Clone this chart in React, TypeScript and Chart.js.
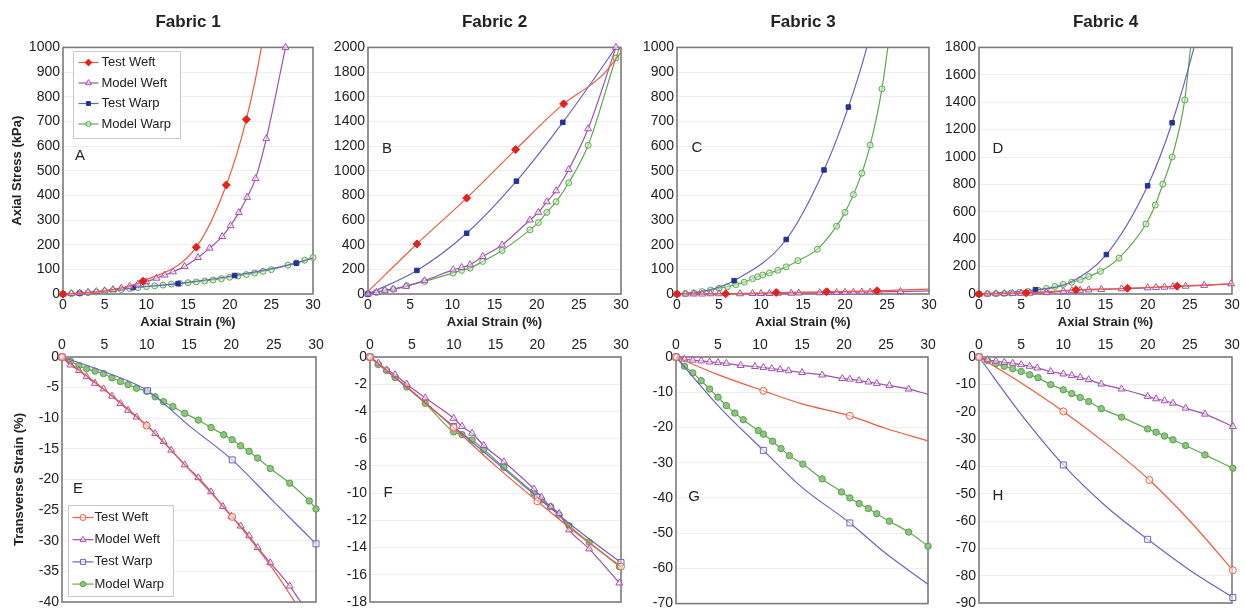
import React, { useEffect, useRef } from 'react';
import { Chart, registerables } from 'chart.js';
import { drawPoint } from 'chart.js/helpers';
Chart.register(...registerables);

type P = [number, number];

// ---------- shared axis labels ----------
const panelTitles = ['Fabric 1', 'Fabric 2', 'Fabric 3', 'Fabric 4'];
const panelLetters = ['A', 'B', 'C', 'D', 'E', 'F', 'G', 'H'];
const seriesLabels = ['Test Weft', 'Model Weft', 'Test Warp', 'Model Warp'];
const xTitle = 'Axial Strain (%)';
const yTitleTop = 'Axial Stress (kPa)';
const yTitleBottom = 'Transverse Strain (%)';

// ---------- A: Fabric 1, axial stress ----------
const aTestWeft: P[] = [[0, 0], [9.6, 52], [16, 190], [19.6, 442], [22, 708]];
const aTestWeftLine: P[] = [[5, 12], [23.8, 1000], [24.6, 1200]];
const aModelWeft: P[] = [[0, 0], [1, 2], [2, 4], [3, 7], [4, 10], [5, 13], [6, 18], [7, 24], [8, 31], [9, 40], [10, 50], [11.2, 64], [12.2, 77], [13.2, 90], [14.6, 112], [16.2, 148], [17.6, 186], [19.1, 233], [20.1, 277], [21.1, 330], [22.1, 392], [23.1, 468], [24.4, 630], [26.7, 1000]];
const aTestWarp: P[] = [[0, 0], [2, 3], [8.4, 26], [13.8, 42], [20.6, 75], [28, 125]];
const aTestWarpLine: P[] = [[30, 146]];
const aModelWarp: P[] = [[0, 0], [1, 1], [2, 3], [3, 5], [4, 8], [5, 11], [6, 14], [7, 18], [8, 22], [9, 26], [10, 30], [11, 33], [12, 36], [13, 40], [14, 43], [15, 46], [16, 49], [17, 53], [18, 57], [19, 62], [20, 68], [21, 73], [22, 79], [23, 85], [24, 92], [25, 99], [27, 117], [28, 126], [29, 137], [30, 148]];

// ---------- B: Fabric 2, axial stress ----------
const bTestWeft: P[] = [[5.8, 406], [11.7, 778], [17.5, 1171], [23.2, 1542]];
const bTestWeftLine: P[] = [[0, 20], [26.5, 1700], [28, 1790], [30, 1960]];
const bModelWeft: P[] = [[0, 0], [1, 13], [2, 30], [3, 40], [4.5, 62], [6.7, 108], [10.1, 196], [11.1, 215], [12.1, 237], [13.6, 304], [15.9, 398], [19.2, 600], [20.2, 662], [21.2, 748], [22.3, 837], [23.8, 1009], [26.1, 1340], [29.4, 2000]];
const bTestWarp: P[] = [[0, 0], [5.8, 191], [11.7, 493], [17.6, 915], [23.1, 1392]];
const bTestWarpLine: P[] = [[29.4, 2000], [30, 2060]];
const bModelWarp: P[] = [[0, 0], [1, 12], [2, 27], [3, 38], [4.6, 67], [6.7, 102], [10.1, 170], [11.1, 191], [12.1, 210], [13.6, 264], [15.9, 353], [19.2, 520], [20.2, 579], [21.2, 662], [22.3, 748], [23.8, 902], [26.1, 1206], [29.4, 1914]];
const bModelWarpLine: P[] = [[30, 2030]];

// ---------- C: Fabric 3, axial stress ----------
const cTestWeft: P[] = [[0, 0], [5.8, 1], [11.8, 6], [17.8, 9], [23.8, 13]];
const cTestWeftLine: P[] = [[30, 20]];
const cModelWeft: P[] = [[0, 0], [1, 0], [2, 0], [3, 0], [4, 1], [5, 1], [7.5, 1], [9, 2], [10, 2], [11, 2], [12, 3], [13.6, 3], [14.5, 4], [17, 5], [18, 6], [19, 6], [20, 7], [21, 7], [22, 8], [23, 8], [24, 9], [26.6, 10]];
const cModelWeftLine: P[] = [[30, 13]];
const cTestWarp: P[] = [[0, 0], [6.8, 54], [13, 221], [17.5, 503], [20.4, 758]];
const cTestWarpLine: P[] = [[3.5, 14], [22.6, 1000], [23.5, 1130]];
const cModelWarp: P[] = [[0, 0], [1, 2], [2, 5], [3, 10], [4, 16], [5, 23], [6, 30], [7, 38], [8, 48], [9, 62], [9.6, 70], [10.2, 77], [11, 85], [12, 96], [13, 110], [14.4, 135], [16.7, 181], [19, 275], [20, 331], [21, 403], [22, 490], [23, 604], [24.4, 832]];
const cModelWarpLine: P[] = [[25.1, 1000], [25.5, 1100]];

// ---------- D: Fabric 4, axial stress ----------
const dTestWeft: P[] = [[0, 0], [5.6, 8], [11.5, 31], [17.6, 42], [23.5, 57]];
const dTestWeftLine: P[] = [[30, 75]];
const dModelWeft: P[] = [[0, 0], [1, 1], [2, 2], [3, 3], [4, 4], [5, 5], [6, 6], [8, 10], [10, 20], [11, 24], [12, 27], [13, 30], [14.5, 33], [16.9, 38], [20, 45], [21, 48], [22, 50], [23, 53], [24.5, 57], [26.7, 63], [29.9, 75]];
const dTestWarp: P[] = [[0, 0], [6.7, 31], [15.1, 288], [20, 790], [22.9, 1250]];
const dTestWarpLine: P[] = [[10.5, 75], [25.5, 1800], [26.2, 1980]];
const dModelWarp: P[] = [[0, 0], [1, 1], [2, 2], [3, 4], [3.8, 7], [4.8, 12], [5.8, 18], [7, 28], [8, 40], [9, 55], [10, 70], [11, 86], [12, 104], [13, 128], [14.4, 165], [16.6, 262], [19.8, 511], [20.9, 649], [21.8, 802], [22.9, 1000], [24.4, 1417]];
const dModelWarpLine: P[] = [[25.1, 1800], [25.5, 1960]];

// ---------- E: Fabric 1, transverse strain ----------
const eTestWeft: P[] = [[0, 0], [10, -11.2], [20.1, -26.1]];
const eTestWeftLine: P[] = [[5, -5.3], [15, -18.3], [25, -34.8], [27.5, -40], [28.5, -42.2]];
const eModelWeft: P[] = [[0, 0], [1, -1.3], [2, -2.2], [2.9, -3.2], [3.9, -4.3], [4.9, -5.2], [5.9, -6.4], [6.9, -7.6], [7.8, -8.7], [8.8, -9.8], [10, -11.1], [11, -12.5], [12, -13.8], [12.9, -15.2], [14.5, -17.6], [16.1, -19.7], [17.6, -22], [19, -24.4], [20, -26], [21.1, -27.6], [22.1, -29.2], [23.1, -31.1], [24.6, -33.6], [26.9, -37.4]];
const eModelWeftLine: P[] = [[28.2, -40], [29, -41.6]];
const eTestWarp: P[] = [[0, 0], [10.1, -5.5], [20.1, -16.8], [30, -30.5]];
const eTestWarpLine: P[] = [[5, -2.4], [15, -11.2], [25, -23.6]];
const eModelWarp: P[] = [[0, 0], [1, -0.7], [2, -1.4], [2.9, -1.9], [3.9, -2.3], [4.9, -2.7], [5.9, -3.4], [6.9, -4], [7.8, -4.5], [8.8, -5.1], [10, -5.6], [11, -6.5], [12, -7.3], [13.1, -8.1], [14.5, -9.2], [16.1, -10.3], [17.6, -11.5], [19.1, -12.7], [20.1, -13.5], [21.1, -14.5], [22.1, -15.4], [23.1, -16.5], [24.6, -18.2], [26.9, -20.6], [29.2, -23.5], [30, -24.8]];

// ---------- F: Fabric 2, transverse strain ----------
const fTestWeft: P[] = [[0, 0], [10, -5.2], [20, -10.6], [30, -15.4]];
const fTestWeftLine: P[] = [[5, -2.5], [15, -8], [25, -13.1]];
const fModelWeft: P[] = [[0, 0], [1, -0.45], [2, -0.95], [3, -1.3], [4.4, -2], [6.6, -3], [10, -4.5], [11, -5.1], [12.2, -5.6], [13.6, -6.5], [16, -7.7], [19.6, -9.7], [20.5, -10.3], [21.6, -11], [22.6, -11.5], [23.8, -12.7], [26.2, -14.1], [29.8, -16.6]];
const fTestWarp: P[] = [[0, 0], [10, -5.1], [20, -10.3], [30, -15.1]];
const fTestWarpLine: P[] = [[15, -7.7], [25, -12.8]];
const fModelWarp: P[] = [[0, 0], [1, -0.55], [2, -1], [3, -1.5], [4.4, -2.2], [6.6, -3.4], [10, -5.5], [11, -5.7], [12.2, -6.1], [13.6, -6.8], [16, -8.1], [19.6, -10], [20.5, -10.5], [21.6, -11], [22.6, -11.6], [23.8, -12.4], [26.2, -13.6], [29.8, -15.4]];

// ---------- G: Fabric 3, transverse strain ----------
const gTestWeft: P[] = [[0, 0], [10.4, -9.6], [20.7, -16.7]];
const gTestWeftLine: P[] = [[5, -5], [15, -13.3], [25, -20.3], [30, -23.8]];
const gModelWeft: P[] = [[0, 0], [1, -0.6], [2, -0.9], [3, -1.1], [4, -1.4], [5, -1.6], [6, -1.8], [7.7, -2.4], [9.4, -2.7], [10.4, -3], [11.4, -3.3], [12.4, -3.6], [13.4, -3.9], [15, -4.4], [17.4, -5.1], [19.8, -6.1], [20.7, -6.3], [21.8, -6.7], [22.9, -7.1], [23.9, -7.5], [25.4, -8.1], [27.7, -9.1]];
const gModelWeftLine: P[] = [[30, -10.6]];
const gTestWarp: P[] = [[0, 0], [10.4, -26.5], [20.7, -47.1]];
const gTestWarpLine: P[] = [[5, -13.8], [15, -37], [25, -55.8], [30, -64.5]];
const gModelWarp: P[] = [[0, 0], [1, -2.6], [2, -4.5], [3, -6.7], [4, -9.1], [5, -11.4], [6, -13.8], [7, -15.9], [8, -17.8], [9.8, -20.9], [10.4, -21.9], [11.5, -23.9], [12.5, -26], [13.5, -28], [15.1, -30.4], [17.4, -34.6], [19.7, -38.3], [20.7, -40], [21.8, -41.6], [22.9, -43], [23.9, -44.5], [25.4, -46.6], [27.7, -49.7], [30, -53.7]];

// ---------- H: Fabric 4, transverse strain ----------
const hTestWeft: P[] = [[0, 0], [10, -19.9], [20.2, -45], [30.1, -78]];
const hTestWeftLine: P[] = [[5, -9.5], [15, -31.5], [25, -60]];
const hModelWeft: P[] = [[0, 0], [1, -1], [2, -1.5], [3, -2], [4, -2.3], [5, -2.8], [6, -3.4], [6.9, -4], [8.5, -5.3], [10, -6.2], [11, -6.8], [12, -7.5], [13, -8.3], [14.5, -9.9], [16.9, -11.7], [20, -14.4], [21, -15.3], [22, -16], [23, -16.9], [24.5, -18.7], [26.8, -20.9], [30.1, -25.4]];
const hTestWarp: P[] = [[0, 0], [10, -39.5], [20, -66.7], [30.1, -88]];
const hTestWarpLine: P[] = [[5, -21], [15, -54.5], [25, -78]];
const hModelWarp: P[] = [[0, 0], [1, -1.3], [2, -2.4], [3, -3.4], [4, -4.3], [5, -5.3], [6, -6.5], [7, -7.6], [8.5, -10.1], [10, -12], [11, -13.4], [12, -14.8], [13, -16.3], [14.5, -18.9], [16.9, -22], [20, -26.3], [21, -27.5], [22, -28.9], [23, -30.3], [24.5, -32.4], [26.8, -35.8], [30.1, -40.7]];

// ---------- axis ranges ----------
const yRanges: [number, number, number][] = [
  [0, 1000, 100], [0, 2000, 200], [0, 1000, 100], [0, 1800, 200],
  [-40, 0, 5], [-18, 0, 2], [-70, 0, 10], [-90, 0, 10],
];
const xRange: [number, number, number] = [0, 30, 5];

// ---------- styling ----------
const FONT = '"Liberation Sans", Arial, Helvetica, sans-serif';
const TXT = '#222';

type Sty = { line: string; shape: string; r: number; fill: string; mark: string };
const STYLE_TOP: Sty[] = [
  { line: '#EF5B3C', shape: 'rectRot', r: 4, fill: '#E4221C', mark: '#E4221C' },
  { line: '#A24FB0', shape: 'triangle', r: 4, fill: 'rgba(255,255,255,0.55)', mark: '#A24FB0' },
  { line: '#6C62C6', shape: 'rect', r: 3.2, fill: '#26329A', mark: '#26329A' },
  { line: '#5DAA50', shape: 'circle', r: 3, fill: 'rgba(200,232,190,0.6)', mark: '#5DAA50' },
];
const STYLE_BOT: Sty[] = [
  { line: '#EF5B3C', shape: 'circle', r: 3.5, fill: 'rgba(255,255,255,0.55)', mark: '#EF5B3C' },
  { line: '#A24FB0', shape: 'triangle', r: 4, fill: 'rgba(255,255,255,0.55)', mark: '#A24FB0' },
  { line: '#6C62C6', shape: 'rect', r: 4.2, fill: 'rgba(255,255,255,0.55)', mark: '#6C62C6' },
  { line: '#5DAA50', shape: 'circle', r: 3.2, fill: '#8DC57D', mark: '#5A9F4E' },
];

type SeriesDef = { marks: P[]; extra?: P[] };
type Legend = { dx: number; dy: number; w: number; h: number; first: number; step: number; l1: number; l2: number; tx: number };
type Panel = {
  idx: number; cl: number; ct: number; cw: number; ch: number; yW: number; pr: number; pb: number;
  axisH: number; letter: [number, number]; yTitle?: string; yTitlePad?: number; legend?: Legend;
  series: SeriesDef[];
};

const PANELS: Panel[] = [
  { idx: 0, cl: 0, ct: 0, cw: 328, ch: 330, yW: 63, pr: 15, pb: 0, axisH: 36, letter: [17, 108], yTitle: yTitleTop, yTitlePad: 10,
    legend: { dx: 10, dy: 4, w: 107, h: 87, first: 11, step: 20.5, l1: 5, l2: 25, tx: 28 },
    series: [{ marks: aTestWeft, extra: aTestWeftLine }, { marks: aModelWeft }, { marks: aTestWarp, extra: aTestWarpLine }, { marks: aModelWarp }] },
  { idx: 1, cl: 308, ct: 0, cw: 328, ch: 330, yW: 60, pr: 15, pb: 0, axisH: 36, letter: [19, 101],
    series: [{ marks: bTestWeft, extra: bTestWeftLine }, { marks: bModelWeft }, { marks: bTestWarp, extra: bTestWarpLine }, { marks: bModelWarp, extra: bModelWarpLine }] },
  { idx: 2, cl: 617, ct: 0, cw: 327, ch: 330, yW: 60, pr: 15, pb: 0, axisH: 36, letter: [20, 100],
    series: [{ marks: cTestWeft, extra: cTestWeftLine }, { marks: cModelWeft, extra: cModelWeftLine }, { marks: cTestWarp, extra: cTestWarpLine }, { marks: cModelWarp, extra: cModelWarpLine }] },
  { idx: 3, cl: 919, ct: 0, cw: 326, ch: 330, yW: 60, pr: 13, pb: 0, axisH: 36, letter: [19, 101],
    series: [{ marks: dTestWeft, extra: dTestWeftLine }, { marks: dModelWeft }, { marks: dTestWarp, extra: dTestWarpLine }, { marks: dModelWarp, extra: dModelWarpLine }] },
  { idx: 4, cl: 0, ct: 330, cw: 331, ch: 285, yW: 62, pr: 15, pb: 13, axisH: 27, letter: [16, 132], yTitle: yTitleBottom, yTitlePad: 12,
    legend: { dx: 6, dy: 148, w: 105, h: 91, first: 12, step: 22.2, l1: 4, l2: 25, tx: 26 },
    series: [{ marks: eTestWeft, extra: eTestWeftLine }, { marks: eModelWeft, extra: eModelWeftLine }, { marks: eTestWarp, extra: eTestWarpLine }, { marks: eModelWarp }] },
  { idx: 5, cl: 310, ct: 330, cw: 326, ch: 285, yW: 60, pr: 15, pb: 13, axisH: 27, letter: [18, 136],
    series: [{ marks: fTestWeft, extra: fTestWeftLine }, { marks: fModelWeft }, { marks: fTestWarp, extra: fTestWarpLine }, { marks: fModelWarp }] },
  { idx: 6, cl: 616, ct: 330, cw: 327, ch: 285, yW: 60, pr: 15, pb: 11, axisH: 27, letter: [18, 140],
    series: [{ marks: gTestWeft, extra: gTestWeftLine }, { marks: gModelWeft, extra: gModelWeftLine }, { marks: gTestWarp, extra: gTestWarpLine }, { marks: gModelWarp }] },
  { idx: 7, cl: 919, ct: 330, cw: 326, ch: 285, yW: 60, pr: 13, pb: 12, axisH: 27, letter: [19, 139],
    series: [{ marks: hTestWeft, extra: hTestWeftLine }, { marks: hModelWeft }, { marks: hTestWarp, extra: hTestWarpLine }, { marks: hModelWarp }] },
];

function buildDataset(label: string, def: SeriesDef, sty: Sty, yMin: number, yMax: number) {
  const pts = [
    ...def.marks.map(([x, y]) => ({ x, y, m: true })),
    ...(def.extra || []).map(([x, y]) => ({ x, y, m: false })),
  ].sort((a, b) => a.x - b.x);
  const over = pts.some((p) => p.y > yMax + 1e-9);
  const under = pts.some((p) => p.y < yMin - 1e-9);
  return {
    label,
    data: pts,
    borderColor: sty.line,
    borderWidth: 1.2,
    pointStyle: sty.shape,
    pointRadius: (c: any) => (c.raw && c.raw.m ? sty.r : 0),
    pointHoverRadius: 0,
    pointBackgroundColor: sty.fill,
    pointBorderColor: sty.mark,
    pointBorderWidth: 1,
    cubicInterpolationMode: 'monotone',
    fill: false,
    clip: { left: 8, right: 8, top: over ? 0 : 8, bottom: under ? 0 : 8 },
    _sty: sty,
  };
}

function makePlugin(p: Panel) {
  return {
    id: 'panelDecor' + p.idx,
    beforeDatasetsDraw(chart: any) {
      const { ctx, chartArea: a } = chart;
      ctx.save();
      ctx.strokeStyle = '#7b7b7b';
      ctx.lineWidth = 1.6;
      ctx.strokeRect(a.left, a.top, a.right - a.left, a.bottom - a.top);
      ctx.restore();
    },
    afterDraw(chart: any) {
      const { ctx, chartArea: a } = chart;
      ctx.save();
      ctx.font = `15px ${FONT}`;
      ctx.fillStyle = TXT;
      ctx.textAlign = 'center';
      ctx.textBaseline = 'middle';
      ctx.fillText(panelLetters[p.idx], a.left + p.letter[0], a.top + p.letter[1]);
      const lg = p.legend;
      if (lg) {
        const x0 = Math.round(a.left + lg.dx) + 0.5;
        const y0 = Math.round(a.top + lg.dy) + 0.5;
        ctx.fillStyle = '#fff';
        ctx.fillRect(x0, y0, lg.w, lg.h);
        ctx.strokeStyle = '#c9c9c9';
        ctx.lineWidth = 1;
        ctx.strokeRect(x0, y0, lg.w, lg.h);
        ctx.font = `13px ${FONT}`;
        ctx.textAlign = 'left';
        chart.data.datasets.forEach((ds: any, i: number) => {
          const y = y0 + lg.first + i * lg.step;
          const sty: Sty = ds._sty;
          ctx.strokeStyle = sty.line;
          ctx.lineWidth = 1.2;
          ctx.beginPath();
          ctx.moveTo(x0 + lg.l1, y);
          ctx.lineTo(x0 + lg.l2, y);
          ctx.stroke();
          ctx.fillStyle = sty.fill;
          ctx.strokeStyle = sty.mark;
          ctx.lineWidth = 1;
          drawPoint(ctx, { pointStyle: sty.shape as any, radius: sty.r * 0.85, rotation: 0, borderWidth: 1 }, x0 + (lg.l1 + lg.l2) / 2, y);
          ctx.fillStyle = TXT;
          ctx.fillText(ds.label, x0 + lg.tx, y);
        });
      }
      ctx.restore();
    },
  };
}

function buildConfig(p: Panel): any {
  const top = p.idx < 4;
  const [yMin, yMax, yStep] = yRanges[p.idx];
  const styles = top ? STYLE_TOP : STYLE_BOT;
  const datasets = p.series.map((s, i) => buildDataset(seriesLabels[i], s, styles[i], yMin, yMax));
  const tickFont = { family: FONT, size: 14 };
  return {
    type: 'line',
    data: { datasets },
    plugins: [makePlugin(p)],
    options: {
      animation: false,
      responsive: false,
      maintainAspectRatio: false,
      events: [],
      layout: { padding: { left: 0, right: p.pr, top: 0, bottom: p.pb } },
      plugins: {
        legend: { display: false },
        tooltip: { enabled: false },
        title: {
          display: top,
          text: top ? panelTitles[p.idx] : '',
          fullSize: false,
          color: TXT,
          font: { family: FONT, size: 17, weight: 'bold', lineHeight: 1.2 },
          padding: { top: 12, bottom: 15 },
        },
      },
      scales: {
        x: {
          type: 'linear',
          position: top ? 'bottom' : 'top',
          min: xRange[0],
          max: xRange[1],
          ticks: { stepSize: xRange[2], font: tickFont, color: TXT, padding: 3, maxRotation: 0, autoSkip: false, callback: (v: number) => String(v) },
          grid: { display: false, drawTicks: false },
          border: { display: false },
          title: top
            ? { display: true, text: xTitle, color: TXT, font: { family: FONT, size: 13, weight: 'bold' }, padding: { top: 0, bottom: 0 } }
            : { display: false },
          afterFit: (s: any) => { s.height = p.axisH; },
        },
        y: {
          type: 'linear',
          min: yMin,
          max: yMax,
          ticks: { stepSize: yStep, font: tickFont, color: TXT, padding: 3, autoSkip: false, callback: (v: number) => String(v) },
          grid: { color: '#eeeeee', lineWidth: 1, drawTicks: false },
          border: { display: false },
          title: p.yTitle
            ? { display: true, text: p.yTitle, color: TXT, font: { family: FONT, size: 13, weight: 'bold' }, padding: { top: p.yTitlePad, bottom: 0 } }
            : { display: false },
          afterFit: (s: any) => { s.width = p.yW; },
        },
      },
    },
  };
}

function PanelChart({ p }: { p: Panel }) {
  const ref = useRef<HTMLCanvasElement | null>(null);
  useEffect(() => {
    if (!ref.current) return;
    const chart = new Chart(ref.current, buildConfig(p));
    return () => chart.destroy();
  }, []);
  return (
    <canvas
      ref={ref}
      width={p.cw}
      height={p.ch}
      style={{ position: 'absolute', left: p.cl, top: p.ct, width: p.cw, height: p.ch }}
    />
  );
}

export default function App() {
  return (
    <div style={{ position: 'absolute', left: 0, top: 0, width: 1245, height: 615, background: '#fff', overflow: 'hidden' }}>
      {PANELS.map((p) => (
        <PanelChart key={p.idx} p={p} />
      ))}
    </div>
  );
}
